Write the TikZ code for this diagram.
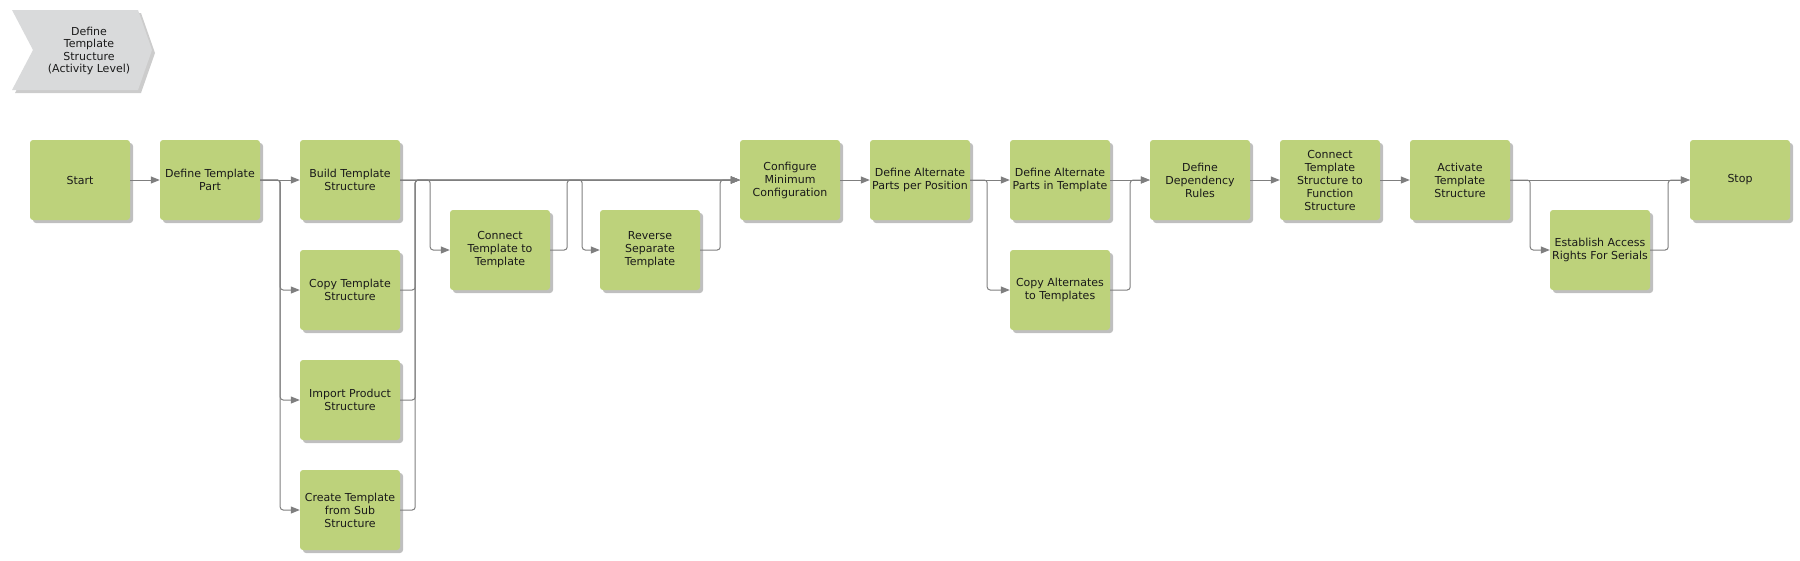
\documentclass[tikz,border=0pt]{standalone}
\usepackage{fontspec}
\newfontfamily\procfont{DejaVu Sans}
\usetikzlibrary{arrows.meta,shadows}
\definecolor{boxgreen}{HTML}{BDD27B}
\definecolor{chevgray}{HTML}{D9DADB}
\definecolor{linegray}{HTML}{7F7F7F}
\definecolor{txt}{HTML}{1A1A1A}
\tikzset{
  proc/.style={rectangle, rounded corners=3pt, fill=boxgreen, minimum width=100pt,
    minimum height=80pt, align=center, inner sep=0pt, text=txt,
    font=\procfont\fontsize{11}{13}\selectfont,
    drop shadow={shadow xshift=3pt, shadow yshift=-3pt, fill=black, opacity=0.25}},
  conn/.style={draw=linegray, line width=1pt, rounded corners=3pt,
    -{Triangle[length=9pt,width=7pt]}},
}
\begin{document}
\begin{tikzpicture}[x=1pt,y=-1pt]
\useasboundingbox (0,0) rectangle (1800,560);
% chevron
\fill[black, opacity=0.2] (15,13) -- (141,13) -- (155,53) -- (141,93) -- (15,93) -- (36,53) -- cycle;
\fill[chevgray] (12,10) -- (138,10) -- (152,50) -- (138,90) -- (12,90) -- (33,50) -- cycle;
\node[align=center, inner sep=0pt, text=txt, font=\procfont\fontsize{11}{12.5}\selectfont] (chev) at (89,51)
  {Define\\Template\\Structure\\(Activity Level)};
% nodes
\node[proc] (start) at (80,180) {Start};
\node[proc] (dtp) at (210,180) {Define Template\\Part};
\node[proc] (build) at (350,180) {Build Template\\Structure};
\node[proc] (copy) at (350,290) {Copy Template\\Structure};
\node[proc] (import) at (350,400) {Import Product\\Structure};
\node[proc] (create) at (350,510) {Create Template\\from Sub\\Structure};
\node[proc] (ctt) at (500,250) {Connect\\Template to\\Template};
\node[proc] (rev) at (650,250) {Reverse\\Separate\\Template};
\node[proc] (conf) at (790,180) {Configure\\Minimum\\Configuration};
\node[proc] (dapp) at (920,180) {Define Alternate\\Parts per Position};
\node[proc] (dapt) at (1060,180) {Define Alternate\\Parts in Template};
\node[proc] (cat) at (1060,290) {Copy Alternates\\to Templates};
\node[proc] (ddr) at (1200,180) {Define\\Dependency\\Rules};
\node[proc] (ctsf) at (1330,180) {Connect\\Template\\Structure to\\Function\\Structure};
\node[proc] (act) at (1460,180) {Activate\\Template\\Structure};
\node[proc] (eas) at (1600,250) {Establish Access\\Rights For Serials};
\node[proc] (stop) at (1740,180) {Stop};
% connectors
\draw[conn] (start.east) -- (dtp.west);
\draw[conn] (dtp.east) -- (build.west);
\draw[conn] (dtp.east) -- ++(20,0) |- (copy.west);
\draw[conn] (dtp.east) -- ++(20,0) |- (import.west);
\draw[conn] (dtp.east) -- ++(20,0) |- (create.west);
\draw[conn] (build.east) -- (conf.west);
\draw[conn] (copy.east) -- ++(15,0) |- (conf.west);
\draw[conn] (import.east) -- ++(15,0) |- (conf.west);
\draw[conn] (create.east) -- ++(15,0) |- (conf.west);
\draw[conn] (build.east) -- ++(30,0) |- (ctt.west);
\draw[conn] (ctt.east) -- ++(17,0) |- (conf.west);
\draw[conn] (build.east) -- ++(182,0) |- (rev.west);
\draw[conn] (rev.east) -- ++(20,0) |- (conf.west);
\draw[conn] (conf.east) -- (dapp.west);
\draw[conn] (dapp.east) -- (dapt.west);
\draw[conn] (dapp.east) -- ++(17,0) |- (cat.west);
\draw[conn] (dapt.east) -- (ddr.west);
\draw[conn] (cat.east) -- ++(20,0) |- (ddr.west);
\draw[conn] (ddr.east) -- (ctsf.west);
\draw[conn] (ctsf.east) -- (act.west);
\draw[conn] (act.east) -- (stop.west);
\draw[conn] (act.east) -- ++(20,0) |- (eas.west);
\draw[conn] (eas.east) -- ++(18,0) |- (stop.west);
\end{tikzpicture}
\end{document}
